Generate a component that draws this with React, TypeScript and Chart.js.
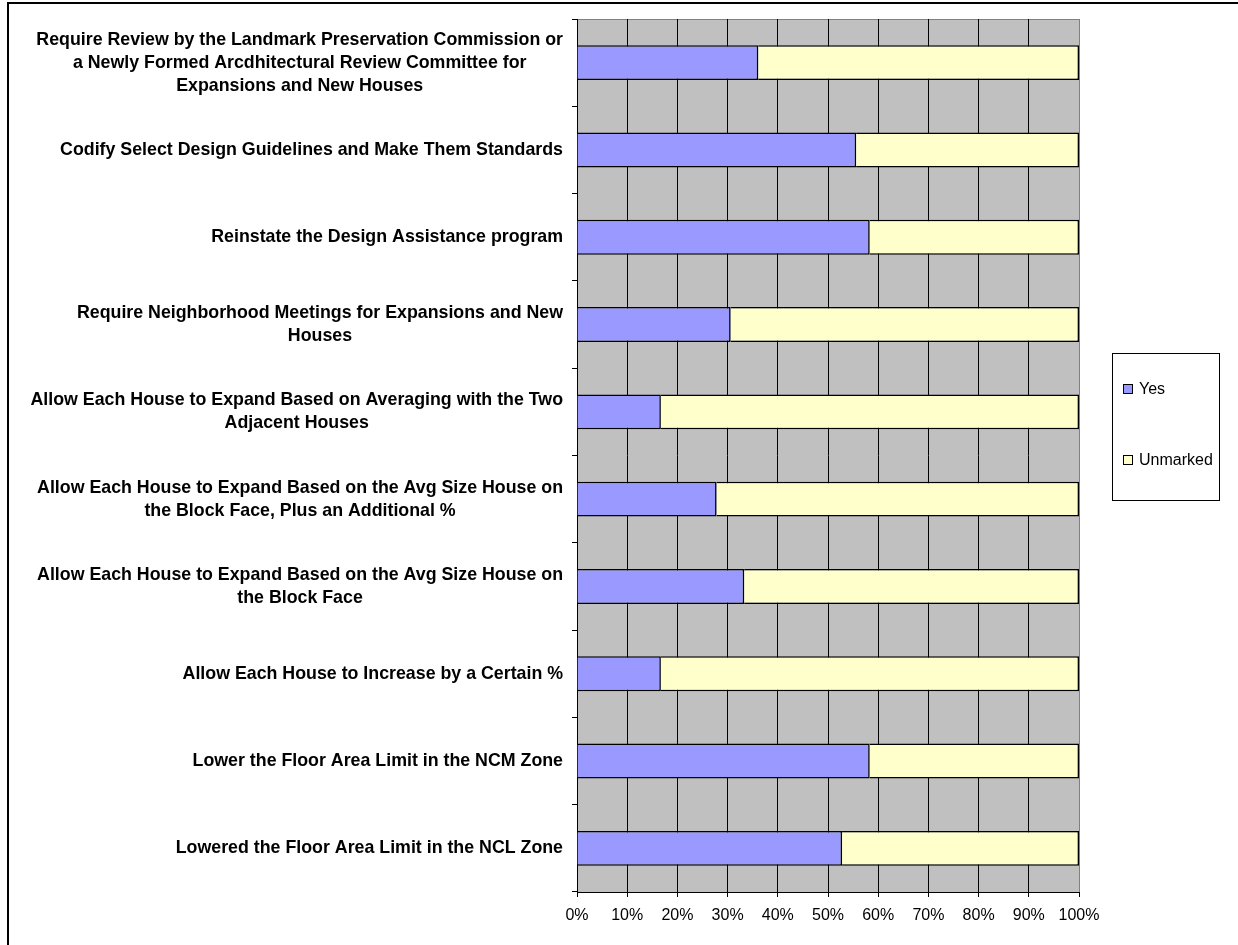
import React, { useEffect, useRef } from "react";
import { Chart, registerables } from "chart.js";

Chart.register(...registerables);

const categories: string[][] = [
  ["Require Review by the Landmark Preservation Commission or", "a Newly Formed Arcdhitectural Review Committee for", "Expansions and New Houses"],
  ["Codify Select Design Guidelines and Make Them Standards"],
  ["Reinstate the Design Assistance program"],
  ["Require Neighborhood Meetings for Expansions and New", "Houses"],
  ["Allow Each House to Expand Based on Averaging with the Two", "Adjacent Houses"],
  ["Allow Each House to Expand Based on the Avg Size House on", "the Block Face, Plus an Additional %"],
  ["Allow Each House to Expand Based on the Avg Size House on", "the Block Face"],
  ["Allow Each House to Increase by a Certain %"],
  ["Lower the Floor Area Limit in the NCM Zone"],
  ["Lowered the Floor Area Limit in the NCL Zone"],
];

const yesValues: number[] = [36.1, 55.6, 58.3, 30.6, 16.7, 27.8, 33.3, 16.7, 58.3, 52.8];
const unmarkedValues: number[] = [63.9, 44.4, 41.7, 69.4, 83.3, 72.2, 66.7, 83.3, 41.7, 47.2];
const seriesNames: string[] = ["Yes", "Unmarked"];
const seriesColors: string[] = ["#9999FF", "#FFFFCC"];

const FONT = "'Liberation Sans', Arial, sans-serif";

const bgPlugin = {
  id: "plotBg",
  beforeDraw(chart: any) {
    const { ctx, chartArea: a } = chart;
    ctx.save();
    ctx.fillStyle = "#C0C0C0";
    ctx.fillRect(a.left, a.top, a.right - a.left, a.bottom - a.top);
    ctx.strokeStyle = "#808080";
    ctx.lineWidth = 1;
    ctx.beginPath();
    ctx.moveTo(a.left, a.top + 0.5);
    ctx.lineTo(a.right + 0.5, a.top + 0.5);
    ctx.lineTo(a.right + 0.5, a.bottom);
    ctx.stroke();
    ctx.restore();
  },
};

const labelPlugin = {
  id: "customLabels",
  afterDraw(chart: any) {
    const { ctx } = chart;
    const yScale = chart.scales.y;
    ctx.save();
    ctx.font = `bold 17.8px ${FONT}`;
    ctx.fillStyle = "#000";
    ctx.textBaseline = "middle";
    ctx.textAlign = "center";
    const rightX = 563;
    const lineH = 23;
    categories.forEach((lines, i) => {
      const cy = yScale.getPixelForValue(i);
      const widest = Math.max(...lines.map((l) => ctx.measureText(l).width));
      const cx = rightX - widest / 2;
      const startY = cy - ((lines.length - 1) * lineH) / 2;
      lines.forEach((l, j) => ctx.fillText(l, cx, startY + j * lineH));
    });

    // legend
    const lx = 1112, ly = 353, lw = 107, lh = 147;
    ctx.fillStyle = "#FFFFFF";
    ctx.fillRect(lx, ly, lw, lh);
    ctx.strokeStyle = "#000";
    ctx.lineWidth = 1;
    ctx.strokeRect(lx + 0.5, ly + 0.5, lw, lh);
    const itemYs = [389, 460];
    ctx.font = `16px ${FONT}`;
    ctx.textAlign = "left";
    chart.data.datasets.forEach((ds: any, i: number) => {
      const y = itemYs[i];
      ctx.fillStyle = ds.backgroundColor;
      ctx.fillRect(1123, y - 5, 10, 10);
      ctx.strokeStyle = "#000";
      ctx.strokeRect(1123.5, y - 4.5, 9, 9);
      ctx.fillStyle = "#000";
      ctx.fillText(ds.label, 1139, y + 1);
    });
    ctx.restore();
  },
};

export default function App() {
  const ref = useRef<HTMLCanvasElement>(null);
  useEffect(() => {
    if (!ref.current) return;
    const chart = new Chart(ref.current, {
      type: "bar",
      data: {
        labels: categories,
        datasets: [
          {
            label: seriesNames[0],
            data: yesValues,
            backgroundColor: seriesColors[0],
            borderColor: "#000",
            borderWidth: 1.5,
            barPercentage: 0.4,
            categoryPercentage: 1,
          },
          {
            label: seriesNames[1],
            data: unmarkedValues,
            backgroundColor: seriesColors[1],
            borderColor: "#000",
            borderWidth: 1.5,
            barPercentage: 0.4,
            categoryPercentage: 1,
          },
        ],
      },
      options: {
        indexAxis: "y",
        responsive: false,
        animation: false,
        layout: { padding: { left: 0, top: 19, right: 159, bottom: 0 } },
        plugins: { legend: { display: false }, tooltip: { enabled: false } },
        scales: {
          x: {
            stacked: true,
            min: 0,
            max: 100,
            ticks: {
              stepSize: 10,
              padding: 9,
              color: "#000",
              font: { family: FONT, size: 16 },
              callback: (v: any) => v + "%",
            },
            grid: {
              color: (c: any) => (c.index === 10 ? "#808080" : "#000"),
              lineWidth: 1,
              drawTicks: true,
              tickLength: 5,
              tickColor: "#000",
            },
            border: { display: true, color: "#000", width: 1 },
            afterFit: (s: any) => {
              s.height = 53;
            },
          },
          y: {
            stacked: true,
            ticks: { display: false },
            grid: {
              drawOnChartArea: false,
              drawTicks: true,
              tickLength: 5,
              color: "#000",
              offset: true,
            },
            border: { display: true, color: "#000", width: 1 },
            afterFit: (s: any) => {
              s.width = 577;
            },
          },
        },
      },
      plugins: [bgPlugin, labelPlugin],
    });
    return () => chart.destroy();
  }, []);

  return (
    <div style={{ position: "absolute", left: 0, top: 0, width: 1238, height: 945, overflow: "hidden", background: "#fff" }}>
      <div style={{ position: "absolute", left: 7, top: 2, width: 1300, height: 1000, border: "2px solid #000" }} />
      <canvas ref={ref} width={1238} height={945} style={{ position: "absolute", left: 0, top: 0, width: 1238, height: 945 }} />
    </div>
  );
}
